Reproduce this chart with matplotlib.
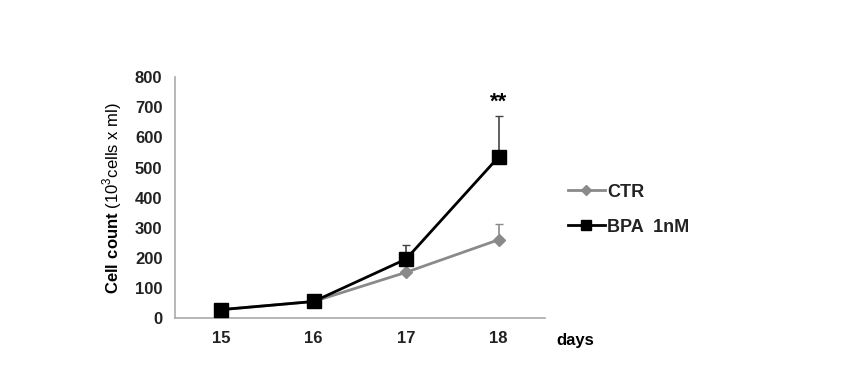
import matplotlib.pyplot as plt
from matplotlib.lines import Line2D
import numpy as np

plt.rcParams['font.family'] = ['Liberation Sans', 'DejaVu Sans']
plt.rcParams['mathtext.fontset'] = 'custom'
plt.rcParams['mathtext.rm'] = 'Liberation Sans'
plt.rcParams['mathtext.bf'] = 'Liberation Sans:bold'

# data
days = ["15", "16", "17", "18"]
ctr = [28, 55, 152, 260]
ctr_err = [0, 8, 0, 52]
bpa = [28, 55, 196, 535]
bpa_err = [0, 0, 47, 136]

x = np.arange(len(days)) + 0.5

fig = plt.figure(figsize=(8.62, 3.66), dpi=100)
ax = fig.add_axes([0.203, 0.131, 0.429, 0.658])

grey = "#8a8a8a"
ax.errorbar(x, ctr, yerr=[np.zeros(4), ctr_err], color=grey, marker="D", markersize=6,
            lw=2, capsize=3, elinewidth=1.2, ecolor=grey, zorder=2)
ax.errorbar(x, bpa, yerr=[np.zeros(4), bpa_err], color="black", marker="s", markersize=10,
            lw=2, capsize=3, elinewidth=1.2, ecolor="#444444", zorder=3)

ax.text(x[3], bpa[3] + bpa_err[3] + 12, "**", ha="center", va="bottom", fontsize=16, fontweight="bold")

ax.set_xlim(0, 4)
ax.set_ylim(0, 800)
ax.set_xticks(x)
ax.set_xticklabels(days)
ax.set_yticks(np.arange(0, 801, 100))
ax.tick_params(length=0, labelsize=12, pad=9)
for lab in ax.get_xticklabels() + ax.get_yticklabels():
    lab.set_fontweight("bold")
    lab.set_color("#222222")

for s in ["top", "right"]:
    ax.spines[s].set_visible(False)
for s in ["left", "bottom"]:
    ax.spines[s].set_color("#aaaaaa")
    ax.spines[s].set_linewidth(1.2)

ax.set_ylabel(r"$\bf{Cell\ count}$ (10$^3$cells x ml)", fontsize=12, labelpad=8)
fig.text(575 / 862, 1 - 340 / 366, "days", fontsize=12, fontweight="bold", ha="center", va="center")

handles = [Line2D([], [], color=grey, marker="D", markersize=5, lw=2),
           Line2D([], [], color="black", marker="s", markersize=7, lw=2)]
leg = ax.legend(handles, ["CTR", "BPA  1nM"], loc="center left", bbox_to_anchor=(1.02, 0.45),
                frameon=False, fontsize=13, handlelength=2.0, handletextpad=0.15, labelspacing=1.0)
for t in leg.get_texts():
    t.set_fontweight("bold")
    t.set_color("#222222")

fig.savefig("out.png", dpi=100)
